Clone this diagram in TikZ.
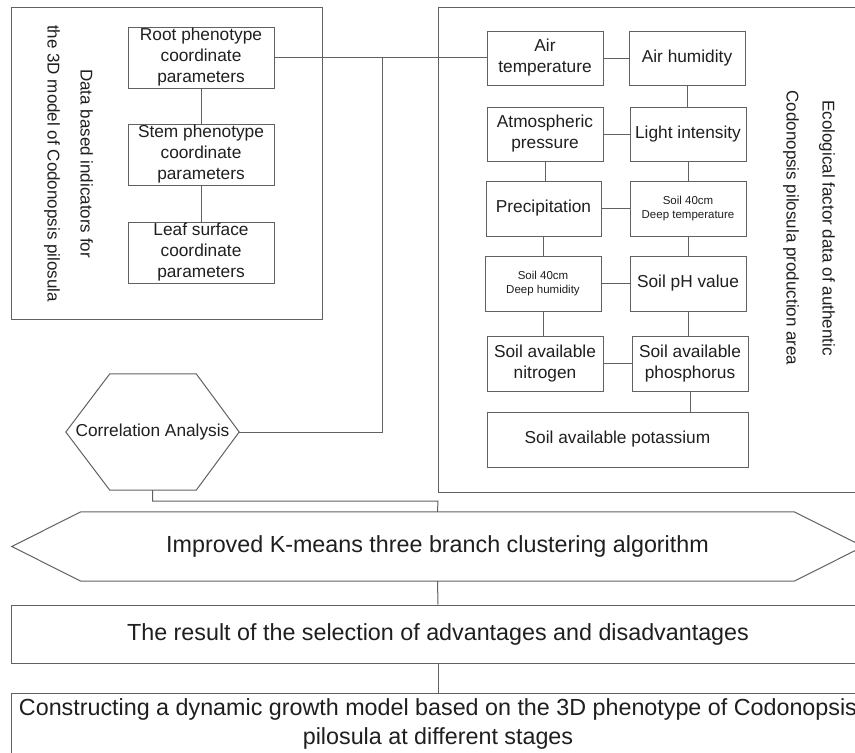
\documentclass[tikz,border=0pt]{standalone}
\usepackage{fontspec}
\setmainfont{Liberation Sans}
\usetikzlibrary{calc}
\begin{document}
\begin{tikzpicture}[x=1pt,y=-1pt,
  ln/.style={draw=black!62,line width=1pt},
  frame/.style={ln,rectangle,inner sep=0pt},
  boxA/.style={frame,minimum width=146pt,minimum height=61pt,align=center,font=\fontsize{17.3}{21}\selectfont,text=black!88},
  boxB/.style={frame,minimum width=116pt,minimum height=54pt,align=center,font=\fontsize{17.3}{21}\selectfont,text=black!88},
  boxS/.style={frame,minimum width=116pt,minimum height=55pt,align=center,font=\fontsize{11.5}{14}\selectfont,text=black!88},
  wide/.style={frame,minimum width=854pt,align=center,font=\fontsize{23.3}{29}\selectfont,text=black!88},
  vlab/.style={rotate=-90,align=center,text=black!88},
  conn/.style={ln}
]
\useasboundingbox (0,0) rectangle (855,753);
\clip (0,0) rectangle (855,753);
\fill[white] (0,0) rectangle (855,753);

% outer frames
\node[frame,minimum width=311pt,minimum height=312pt] (leftframe) at (166.5,163) {};
\node[frame,minimum width=434pt,minimum height=485pt] (rightframe) at (655,249.5) {};

% left and right labels
\node[vlab,font=\fontsize{17}{33}\selectfont] (leftlab) at (68.5,163.5) {Data based indicators for\\the 3D model of Codonopsis pilosula};
\node[vlab,font=\fontsize{17}{36}\selectfont] (rightlab) at (809,228) {Ecological factor data of authentic\\Codonopsis pilosula production area};

% phenotype boxes
\node[boxA] (root) at (201,57.5) {Root phenotype\\coordinate\\parameters};
\node[boxA] (stem) at (201,154.5) {Stem phenotype\\coordinate\\parameters};
\node[boxA] (leaf) at (201,252.5) {Leaf surface\\coordinate\\parameters};

% ecological factor boxes
\node[boxB] (airtemp) at (545,58) {Air\\temperature};
\node[boxB] (airhum) at (687,58) {Air humidity};
\node[boxB] (atm) at (545,134) {Atmospheric\\pressure};
\node[boxB] (light) at (688,134) {Light intensity};
\node[boxB,minimum height=55pt,minimum width=115pt] (precip) at (543.5,208.5) {Precipitation};
\node[boxS] (stemp) at (688,208.5) {Soil 40cm\\Deep temperature};
\node[boxS] (shum) at (543,283.5) {Soil 40cm\\Deep humidity};
\node[boxB,minimum height=55pt] (ph) at (688,283.5) {Soil pH value};
\node[boxB,minimum height=55pt] (nitro) at (545,363.5) {Soil available\\nitrogen};
\node[boxB,minimum height=55pt] (phos) at (690,363.5) {Soil available\\phosphorus};
\node[boxB,minimum height=55pt,minimum width=261pt] (potas) at (617.5,439.5) {Soil available potassium};

% correlation hexagon
\node[inner sep=0pt,minimum width=173pt,minimum height=116pt,font=\fontsize{17.3}{21}\selectfont,text=black!88] (hex) at (152.5,432) {Correlation Analysis};
\draw[ln] (hex.west) -- ([xshift=44pt]hex.north west) -- ([xshift=-43pt]hex.north east) -- (hex.east)
  -- ([xshift=-43pt]hex.south east) -- ([xshift=44pt]hex.south west) -- cycle;

% K-means elongated hexagon
\node[inner sep=0pt,minimum width=851pt,minimum height=69pt,font=\fontsize{23.3}{29}\selectfont,text=black!88] (km) at (437.5,546.5) {Improved K-means three branch clustering algorithm};
\draw[ln] (km.west) -- ([xshift=69pt]km.north west) -- ([xshift=-69pt]km.north east) -- (km.east)
  -- ([xshift=-69pt]km.south east) -- ([xshift=69pt]km.south west) -- cycle;

% bottom boxes
\node[wide,minimum height=58pt] (result) at (438,634) {The result of the selection of advantages and disadvantages};
\node[wide,minimum height=62pt] (model) at (438,724) {Constructing a dynamic growth model based on the 3D phenotype of Codonopsis\\pilosula at different stages};

% junction coordinates
\coordinate (j1) at (382,58);
\coordinate (j2) at (438,501);

% connectors
\draw[conn] (root.south) -- (stem.north);
\draw[conn] (stem.south) -- (leaf.north);
\draw[conn] (root.east) -- (root.east -| airtemp.west);
\draw[conn] (hex.east) -| (j1);
\draw[conn] (hex.south) |- (j2) -- (km.north);

\draw[conn] (airtemp.east) -- (airhum.west);
\draw[conn] (airhum.south) -- (airhum.south |- light.north);
\draw[conn] (atm.east) -- (light.west);
\draw[conn] (atm.south) -- (atm.south |- precip.north);
\draw[conn] (light.south) -- (stemp.north);
\draw[conn] (precip.east) -- (stemp.west);
\draw[conn] (precip.south) -- (precip.south |- shum.north);
\draw[conn] (stemp.south) -- (ph.north);
\draw[conn] (shum.east) -- (ph.west);
\draw[conn] (shum.south) -- (shum.south |- nitro.north);
\draw[conn] (ph.south) -- (ph.south |- phos.north);
\draw[conn] (nitro.east) -- (phos.west);
\draw[conn] (phos.south) -- (phos.south |- potas.north);

\draw[conn] (km.south) -- (result.north);
\draw[conn] (result.south) -- (model.north);
\end{tikzpicture}
\end{document}
